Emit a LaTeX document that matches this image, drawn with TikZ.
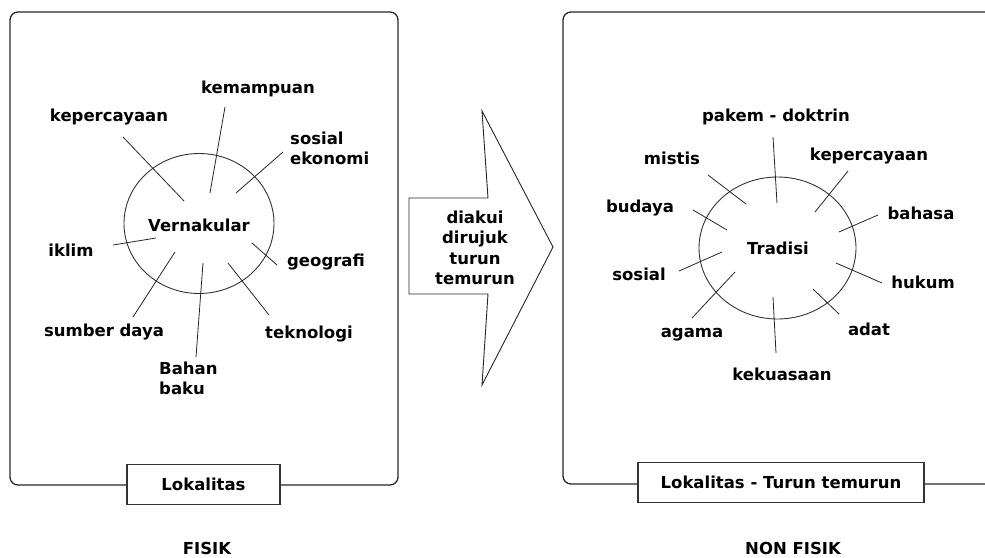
\documentclass[tikz,border=0pt]{standalone}
\usepackage{fontspec}
\setmainfont{DejaVu Sans}
\begin{document}
\begin{tikzpicture}[x=1pt,y=-1pt,
  lbl/.style={font=\fontsize{16.5}{20}\selectfont\bfseries, inner sep=0pt, text=black},
  spoke/.style={draw=black!85, line width=0.8pt},
  panel/.style={draw=black!85, line width=1.3pt, rounded corners=8pt},
  ring/.style={draw=black!80, line width=0.9pt},
  tag/.style={lbl, draw=black!80, line width=1.2pt, fill=white, minimum height=40pt},
  bigarrow/.style={draw=black!85, line width=0.9pt, fill=white}]
\useasboundingbox (0,0) rectangle (985,557);

% ---------------- left panel ----------------
\draw[panel] (10,12) rectangle (398,485);
\node[tag, minimum width=153pt] (lok) at (203.5,484.5) {Lokalitas};
\node[lbl] (fisik) at (207,548) {FISIK};

\draw[ring] (199,223.5) ellipse [x radius=75, y radius=70];
\node[lbl] (vern) at (199,225) {Vernakular};

\node[lbl] (kemampuan) at (258,89) {kemampuan};
\node[lbl] (kepercayaanL) at (109,117) {kepercayaan};
\node[lbl, anchor=west, align=left] (sosek) at (290,148) {sosial\\ekonomi};
\node[lbl] (iklim) at (71,250) {iklim};
\node[lbl] (geografi) at (326,262) {geografi};
\node[lbl] (sumber) at (104,332) {sumber daya};
\node[lbl, anchor=west, align=left] (bahan) at (159,378) {Bahan\\baku};
\node[lbl] (teknologi) at (309,334) {teknologi};

\draw[spoke] (225,107) coordinate (kemA) -- (210,193) coordinate (kemB);
\draw[spoke] (123,137) coordinate (kepA) -- (184,201) coordinate (kepB);
\draw[spoke] (283,152) coordinate (sosA) -- (236,193) coordinate (sosB);
\draw[spoke] (113,245) coordinate (ikA) -- (156,238) coordinate (ikB);
\draw[spoke] (252,243) coordinate (geoB) -- (277,265) coordinate (geoA);
\draw[spoke] (175,252) coordinate (sumB) -- (133,317) coordinate (sumA);
\draw[spoke] (203,263) coordinate (bahB) -- (196,357) coordinate (bahA);
\draw[spoke] (228,263) coordinate (tekB) -- (269,315) coordinate (tekA);

% ---------------- arrow ----------------
\draw[bigarrow] (482,111) coordinate (arTop) -- (488,198) -- (409,198) -- (409,294)
  -- (488,294) -- (482,385) coordinate (arBot) -- (553,247) coordinate (arTip) -- cycle;
\node[lbl, align=center, font=\fontsize{16.5}{20.5}\selectfont\bfseries] (artext) at (475,248)
  {diakui\\dirujuk\\turun\\temurun};

% ---------------- right panel ----------------
\draw[panel] (990,12) -- (563,12) -- (563,484) -- (990,484);
\node[tag, minimum width=286pt] (lokt) at (781,482.5) {Lokalitas - Turun temurun};
\node[lbl] (nonfisik) at (793,548) {NON FISIK};

\draw[ring] (777.5,248) ellipse [x radius=78.5, y radius=71];
\node[lbl] (tradisi) at (778,248) {Tradisi};

\node[lbl] (pakem) at (776,117) {pakem - doktrin};
\node[lbl] (mistis) at (672,158) {mistis};
\node[lbl] (kepercayaanR) at (869,156) {kepercayaan};
\node[lbl] (budaya) at (640,208) {budaya};
\node[lbl] (bahasa) at (921,213) {bahasa};
\node[lbl] (sosial) at (639,274) {sosial};
\node[lbl] (hukum) at (923,282) {hukum};
\node[lbl] (agama) at (692,335) {agama};
\node[lbl] (adat) at (869,329) {adat};
\node[lbl] (kekuasaan) at (782,374) {kekuasaan};

\draw[spoke] (773,137) coordinate (pkA) -- (777,203) coordinate (pkB);
\draw[spoke] (708,175) coordinate (miA) -- (746,204) coordinate (miB);
\draw[spoke] (848,171) coordinate (kpA) -- (815,212) coordinate (kpB);
\draw[spoke] (693,210) coordinate (buA) -- (727,230) coordinate (buB);
\draw[spoke] (878,215) coordinate (baA) -- (839,232) coordinate (baB);
\draw[spoke] (679,271) coordinate (soA) -- (722,252) coordinate (soB);
\draw[spoke] (836,263) coordinate (huB) -- (882,283) coordinate (huA);
\draw[spoke] (735,272) coordinate (agB) -- (692,318) coordinate (agA);
\draw[spoke] (813,289) coordinate (adB) -- (839,314) coordinate (adA);
\draw[spoke] (773,297) coordinate (keB) -- (776,353) coordinate (keA);
\end{tikzpicture}
\end{document}
